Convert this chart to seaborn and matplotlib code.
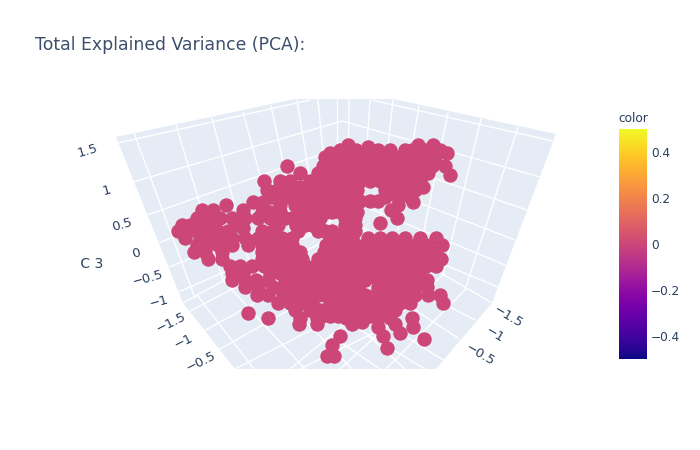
import numpy as np
import matplotlib
matplotlib.use("Agg")
import matplotlib.pyplot as plt
from matplotlib.patches import Polygon, Rectangle
from matplotlib.cm import ScalarMappable
from matplotlib.colors import Normalize
import seaborn as sns
import pandas as pd

TITLE = "Total Explained Variance (PCA):"
INK = "#2a3f5f"
WALL = "#E5ECF6"
POINT = "#CC4778"

# projected positions of the PCA samples, one list per screen row
rows = {
 145: [348, 418, 433],
 147: [368],
 150: [340, 356, 378, 390, 405, 412, 425, 440],
 153: [447, 330],
 157: [325, 335, 345, 355, 365, 375, 385, 395, 405, 415, 425, 435],
 166: [287, 323, 332, 342, 352, 362, 372, 382, 392, 402, 412, 422, 432, 445],
 173: [300, 318, 328, 338, 348, 358, 368, 378, 388, 398, 408, 418, 428],
 175: [450],
 181: [264, 280, 290, 310, 320, 330, 340, 350, 360, 370, 380, 390, 400, 410, 420],
 187: [300, 423],
 190: [267, 277, 287, 297, 307, 317, 327, 337, 347, 357, 385, 395, 405, 415],
 197: [272, 283, 290, 303, 315, 325, 335, 345, 355, 385, 398, 410],
 201: [360, 370, 378],
 202: [253, 263, 413],
 205: [226, 280, 295, 308, 320, 333, 345, 355, 398],
 210: [202, 213, 243, 391],
 212: [262, 270, 280, 300, 308, 315, 326, 332, 340, 350, 357],
 218: [197, 208, 220, 232, 245, 258, 270, 285, 292, 302, 320, 345, 355, 397],
 223: [380],
 225: [182, 190, 200, 212, 238, 278, 296, 305, 312, 318, 345, 350, 355],
 228: [243],
 231: [178, 188, 198, 208, 218, 228, 262, 272, 298, 318, 325, 332, 345, 355],
 238: [185, 200, 212, 222, 232, 245, 258, 270, 282, 292, 330, 342, 352, 368, 380, 392, 405, 420, 436],
 245: [197, 207, 218, 232, 248, 262, 272, 282, 292, 326, 336, 346, 356, 366, 376, 386, 396, 406, 416, 426, 442],
 252: [194, 205, 222, 262, 270, 280, 290, 300, 324, 334, 344, 354, 364, 374, 384, 394, 404, 414, 424, 434],
 259: [208, 222, 262, 268, 280, 292, 302, 318, 328, 338, 348, 358, 368, 378, 388, 398, 408, 418, 428, 441],
 266: [230, 240, 252, 264, 276, 286, 296, 306, 316, 326, 336, 346, 356, 366, 376, 386, 396, 406, 416, 426, 436],
 273: [232, 243, 270, 280, 290, 300, 310, 322, 332, 342, 352, 362, 372, 382, 392, 402, 412, 420],
 280: [232, 245, 256, 268, 285, 295, 305, 315, 325, 335, 345, 355, 365, 378, 388, 398, 408, 418, 427],
 287: [245, 258, 273, 283, 293, 303, 313, 320, 328, 338, 348, 358, 378, 384, 394, 404, 414, 427],
 295: [257, 268, 283, 295, 305, 318, 325, 335, 345, 355, 365, 375, 385, 395, 405, 415, 428, 440],
 303: [278, 290, 300, 312, 330, 338, 350, 360, 370, 380, 390, 400, 410, 443],
 310: [295, 310, 320, 330, 345, 355, 365, 375, 385, 395],
 313: [248],
 316: [322, 330, 338, 370],
 318: [268, 300, 317, 346, 358, 378, 390, 412],
 322: [362],
 324: [299, 317, 352, 395],
 327: [378, 413],
 333: [400],
 336: [340, 383],
 339: [424],
 345: [332],
 348: [387],
 356: [327, 334],
}
sample_x = [x for y, xs in rows.items() for x in xs]
sample_y = [y for y, xs in rows.items() for x in xs]

cbar_ticks = [-0.4, -0.2, 0, 0.2, 0.4]
cbar_labels = ["\u22120.4", "\u22120.2", "0", "0.2", "0.4"]

z_labels = [("1.5", 88, 151), ("1", 107, 190), ("0.5", 122, 225), ("0", 136, 253),
            ("\u22120.5", 148, 278), ("\u22121", 159, 302)]
y_labels = [("\u22121.5", 171, 323), ("\u22121", 184, 342), ("\u22120.5", 201, 362)]
x_labels = [("\u22121.5", 508, 317), ("\u22121", 495, 335), ("\u22120.5", 480, 355)]

scene_outline = [(116, 137), (295, 99), (393, 99), (556, 134), (492, 303),
                 (436, 369), (235, 369), (183, 303)]
grid_segments = [
 # left wall: constant height
 ((118, 143), (310, 100)), ((133, 182), (342, 121)), ((147, 215), (342, 147)),
 ((158, 243), (342, 173)), ((169, 267), (342, 197)), ((178, 292), (342, 222)),
 # right wall: constant height
 ((553, 141), (372, 100)), ((540, 177), (342, 121)), ((527, 210), (342, 147)),
 ((515, 240), (342, 173)), ((505, 265), (342, 197)), ((498, 287), (342, 222)),
 # left wall: verticals
 ((134, 133), (195, 298)), ((176, 125), (223, 280)), ((212, 118), (250, 265)),
 ((243, 112), (280, 250)), ((271, 106), (300, 240)), ((297, 100), (318, 230)),
 ((318, 100), (330, 225)),
 # right wall: verticals
 ((518, 127), (465, 290)), ((481, 119), (443, 275)), ((448, 113), (420, 250)),
 ((419, 106), (398, 230)), ((393, 100), (380, 220)), ((370, 100), (362, 220)),
 ((349, 100), (348, 210)), ((337, 100), (337, 210)),
 # floor back edges
 ((183, 303), (342, 215)), ((492, 303), (342, 215)),
 # floor: up-right family
 ((188, 312), (342, 232)), ((202, 332), (342, 255)), ((218, 350), (342, 280)),
 ((235, 369), (360, 305)), ((300, 369), (400, 320)),
 # floor: down-right family
 ((197, 295), (254, 369)), ((223, 280), (305, 369)), ((250, 265), (352, 369)),
 ((280, 255), (405, 369)),
 # floor: down-left family
 ((465, 290), (386, 369)), ((443, 275), (340, 369)), ((420, 262), (290, 369)),
 # floor: up-left family
 ((475, 320), (407, 285)), ((458, 338), (400, 300)), ((443, 360), (380, 320)),
 ((425, 369), (360, 330)), ((380, 369), (330, 335)),
]

sns.set_theme(style="white")
plt.rcParams["font.family"] = ["DejaVu Sans"]
fig = plt.figure(figsize=(7, 4.5), dpi=100)
ax = fig.add_axes([0, 0, 1, 1])

ax.add_patch(Polygon(scene_outline, closed=True, fc=WALL, ec="none", zorder=1))
clip = Polygon(scene_outline, closed=True, transform=ax.transData)
for a, b in grid_segments:
    ln, = ax.plot([a[0], b[0]], [a[1], b[1]], color="white", lw=1.0, zorder=2)
    ln.set_clip_path(clip)

df = pd.DataFrame({"x": sample_x, "y": sample_y})
sns.scatterplot(data=df, x="x", y="y", ax=ax, color=POINT, s=108, linewidth=0,
                zorder=3, legend=False)
ax.set_xlim(0, 700)
ax.set_ylim(450, 0)
ax.axis("off")

ax.text(35, 50, TITLE, fontsize=12.4, color="#3d4f6b", va="baseline", ha="left")
TICK = 9.4
for t, x, y in z_labels:
    ax.text(x, y, t, fontsize=TICK, color=INK, rotation=16, ha="center", va="center")
for t, x, y in y_labels:
    ax.text(x, y, t, fontsize=TICK, color=INK, rotation=27, ha="center", va="center")
for t, x, y in x_labels:
    ax.text(x, y, t, fontsize=TICK, color=INK, rotation=-30, ha="center", va="center")
lab = ax.text(88, 264, "PC 3", fontsize=10, color=INK, ha="center", va="center")
lab.set_clip_path(Rectangle((80.5, 250), 40, 30, transform=ax.transData))
lab.set_clip_on(True)

cax = fig.add_axes([619 / 700, 1 - 359 / 450, 28 / 700, 230 / 450])
cb = fig.colorbar(ScalarMappable(Normalize(-0.5, 0.5), "plasma"), cax=cax)
cb.set_ticks(cbar_ticks)
cb.set_ticklabels(cbar_labels)
cb.ax.tick_params(length=0, pad=3, labelsize=8.7, labelcolor=INK)
cb.outline.set_visible(False)
fig.text(618 / 700, 1 - 122 / 450, "color", fontsize=8.7, color=INK, ha="left", va="baseline")

fig.savefig("out.png", dpi=100)
